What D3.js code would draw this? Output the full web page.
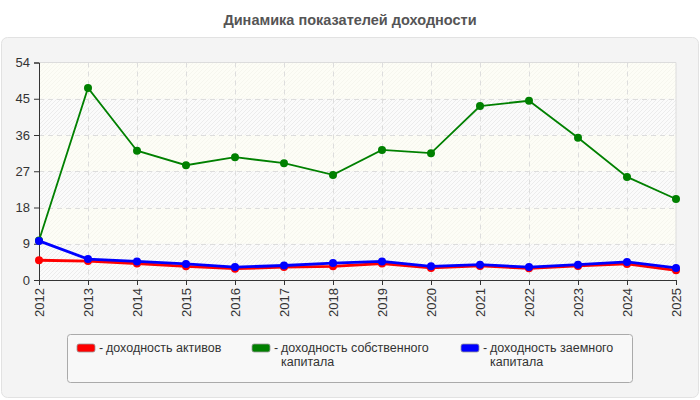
<!DOCTYPE html>
<html><head><meta charset="utf-8">
<script src="https://cdn.jsdelivr.net/npm/d3@7"></script>
<style>
html,body{margin:0;padding:0;background:#fff;}
svg{display:block;font-family:Arial,"Liberation Sans",sans-serif;}
</style></head>
<body>
<svg id="c" width="700" height="400"></svg>
<script>
const years = [2012,2013,2014,2015,2016,2017,2018,2019,2020,2021,2022,2023,2024,2025];
const roa = [4.9,4.7,4.1,3.4,2.8,3.2,3.4,4.1,3.0,3.5,2.9,3.5,4.0,2.4];
const roe = [9.8,47.7,32.1,28.5,30.5,29.0,26.1,32.3,31.5,43.2,44.5,35.3,25.6,20.1];
const rod = [9.7,5.2,4.6,4.0,3.2,3.6,4.2,4.6,3.4,3.8,3.2,3.8,4.5,3.0];
const yTicks = [0,9,18,27,36,45,54];
const title = "Динамика показателей доходности";
const legendItems = [
  {name:["доходность активов"], color:"red"},
  {name:["доходность собственного","капитала"], color:"green"},
  {name:["доходность заемного","капитала"], color:"blue"}
];

const svg = d3.select("#c");
const M = {left:39, right:676, top:62.5, bottom:280};
const x = d3.scalePoint().domain(years).range([M.left, M.right]);
const y = d3.scaleLinear().domain([0,54]).range([M.bottom, M.top]);

// defs
const defs = svg.append("defs");
const pat = defs.append("pattern").attr("id","hatch").attr("patternUnits","userSpaceOnUse")
  .attr("width",4).attr("height",4);
pat.append("rect").attr("width",4).attr("height",4).attr("fill","#fbfbfb");
pat.append("path").attr("d","M-1,1 l2,-2 M0,4 l4,-4 M3,5 l2,-2").attr("stroke","#ececec").attr("stroke-width",1);
const pat2 = defs.append("pattern").attr("id","hatch2").attr("patternUnits","userSpaceOnUse")
  .attr("width",4).attr("height",4);
pat2.append("rect").attr("width",4).attr("height",4).attr("fill","#fdfdf6");
pat2.append("path").attr("d","M-1,1 l2,-2 M0,4 l4,-4 M3,5 l2,-2").attr("stroke","#f6f6ee").attr("stroke-width",1);

// title
svg.append("text").attr("x",350).attr("y",25).attr("text-anchor","middle")
  .attr("font-size",14.5).attr("font-weight","bold").attr("fill","#555").text(title);

// panel
svg.append("rect").attr("x",1.5).attr("y",37.5).attr("width",697).attr("height",360).attr("rx",6)
  .attr("fill","#f4f4f4").attr("stroke","#e2e2e2");

// bands
for (let i=0;i<yTicks.length-1;i++){
  svg.append("rect").attr("x",M.left).attr("width",M.right-M.left)
    .attr("y",y(yTicks[i+1])).attr("height",y(yTicks[i])-y(yTicks[i+1]))
    .attr("fill", i%2===0 ? "url(#hatch)" : "url(#hatch2)");
}
// top/right border
svg.append("path").attr("d",`M${M.left},${M.top}H${M.right}V${M.bottom}`)
  .attr("fill","none").attr("stroke","#dcdcdc");

// grid
const g = svg.append("g");
g.selectAll(".hg").data(yTicks.filter(d=>d>0&&d<54)).join("line")
  .attr("x1",M.left).attr("x2",M.right).attr("y1",d=>Math.round(y(d))+0.5).attr("y2",d=>Math.round(y(d))+0.5)
  .attr("stroke","#dddddd").attr("stroke-dasharray","5,4");
g.selectAll(".vg").data(years.slice(1,-1)).join("line")
  .attr("y1",M.top).attr("y2",M.bottom).attr("x1",d=>Math.round(x(d))+0.5).attr("x2",d=>Math.round(x(d))+0.5)
  .attr("stroke","#dddddd").attr("stroke-dasharray","5,4");

// axes
const yAxis = svg.append("g").attr("transform",`translate(${M.left},0)`)
  .call(d3.axisLeft(y).tickValues(yTicks).tickSize(5).tickPadding(4));
yAxis.select(".domain").attr("stroke","#333");
yAxis.selectAll(".tick line").attr("stroke","#333");
yAxis.selectAll("text").attr("font-size",13).attr("fill","#333").attr("font-family","Arial,'Liberation Sans',sans-serif");

const xAxis = svg.append("g").attr("transform",`translate(0,${M.bottom})`)
  .call(d3.axisBottom(x).tickSize(5).tickPadding(4).tickSizeOuter(0));
xAxis.select(".domain").attr("stroke","#333");
xAxis.selectAll(".tick line").attr("stroke","#333");
xAxis.selectAll("text").attr("font-size",13).attr("fill","#333").attr("font-family","Arial,'Liberation Sans',sans-serif")
  .attr("transform","rotate(-90)").attr("text-anchor","end").attr("x",-8).attr("y",0).attr("dy","0.36em");

// series
const line = d3.line().x((d,i)=>x(years[i])).y(d=>y(d));
const series = [{v:roa,c:"red",w:2.8},{v:roe,c:"green",w:1.8},{v:rod,c:"blue",w:2.8}];
series.forEach(s=>{
  svg.append("path").datum(s.v).attr("d",line).attr("fill","none").attr("stroke",s.c).attr("stroke-width",s.w);
  svg.selectAll(null).data(s.v).join("circle").attr("cx",(d,i)=>x(years[i])).attr("cy",d=>y(d)).attr("r",4).attr("fill",s.c);
});

// legend
svg.append("rect").attr("x",67.5).attr("y",334.5).attr("width",565).attr("height",48).attr("rx",3)
  .attr("fill","#f8f8f8").attr("stroke","#aaaaaa");
const lx = [77,252,461];
legendItems.forEach((it,i)=>{
  svg.append("rect").attr("x",lx[i]).attr("y",344).attr("width",18).attr("height",8).attr("rx",2)
    .attr("fill",it.color).attr("stroke","#999").attr("stroke-width",0.8);
  svg.append("text").attr("x",lx[i]+22).attr("y",351.5).attr("font-size",12.5).attr("fill","#333").text("-");
  it.name.forEach((t,j)=>{
    svg.append("text").attr("x",lx[i]+29).attr("y",351.5+j*14.5).attr("font-size",12.5).attr("fill","#333").text(t);
  });
});
</script>
</body></html>
